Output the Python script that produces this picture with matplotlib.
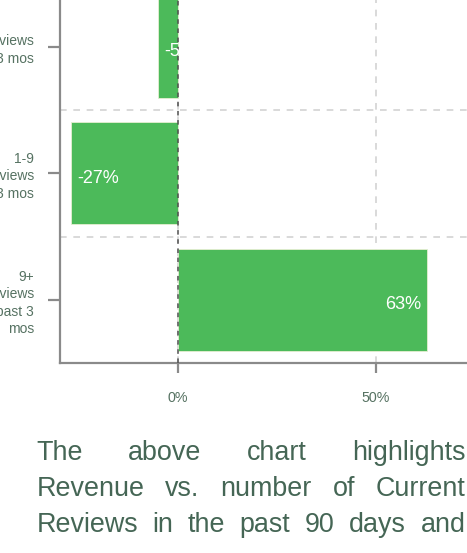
import matplotlib
matplotlib.use("Agg")
import matplotlib.pyplot as plt
from matplotlib.transforms import IdentityTransform

# Data
categories = ["0 reviews\npast 3 mos", "1-9\nreviews\npast 3 mos", "9+\nreviews\npast 3\nmos"]
revenue_change = [-5, -27, 63]          # % revenue difference
value_labels = ["-5%", "-27%", "63%"]
x_ticks = [0, 50]
x_tick_labels = ["0%", "50%"]
paragraph_lines = [
    "The above chart highlights",
    "Revenue vs. number of Current",
    "Reviews in the past 90 days and",
]

W, H, DPI = 467, 553, 100
plt.rcParams['font.family'] = ['Liberation Sans', 'DejaVu Sans']

BAR = "#4cba5a"
AXIS = "#8a8a8a"
LABEL = "#567262"
TEXT = "#456655"
GRID = "#d3d3d3"

fig = plt.figure(figsize=(W / DPI, H / DPI), dpi=DPI)

# axes geometry (pixels)
px_per_pct = 3.96
x_min, x_max = -29.8, 80
left_px = 60
bottom_px = 363
row_px = 126.5
ax = fig.add_axes([left_px / W, (H - bottom_px) / H,
                   (x_max - x_min) * px_per_pct / W, 3 * row_px / H])

ypos = list(range(len(categories)))
bars = ax.barh(ypos, revenue_change, height=0.81, color=BAR,
               edgecolor="#e6eed2", linewidth=0.6, zorder=2)

ax.set_xlim(x_min, x_max)
ax.set_ylim(len(categories) - 0.5, -0.5)

ax.set_xticks(x_ticks)
ax.set_xticklabels(x_tick_labels)
ax.set_yticks(ypos)
ax.set_yticklabels(categories, linespacing=1.3)
ax.set_yticks([0.5, 1.5], minor=True)

ax.grid(axis='x', which='major', color=GRID, linestyle=(0, (4, 4)), linewidth=1.2, zorder=0)
ax.grid(axis='y', which='minor', color=GRID, linestyle=(0, (4, 4)), linewidth=1.2, zorder=0)
ax.set_axisbelow(True)
ax.axvline(0, color="#505050", linestyle=(0, (3, 3)), linewidth=1.1, zorder=3)

for side in ("top", "right"):
    ax.spines[side].set_visible(False)
for side in ("left", "bottom"):
    ax.spines[side].set_color(AXIS)
    ax.spines[side].set_linewidth(1.6)

ax.tick_params(axis='y', which='major', length=8.6, width=1.6, color=AXIS,
               pad=10, labelsize=10, labelcolor=LABEL)
ax.tick_params(axis='y', which='minor', length=0)
ax.tick_params(axis='x', which='major', length=7.2, width=1.6, color=AXIS,
               pad=13, labelsize=10.3, labelcolor=LABEL)

# value labels inside the bars, at the outer end
pad = 6 / px_per_pct
for bar, v, lab, y in zip(bars, revenue_change, value_labels, ypos):
    if v < 0:
        x, ha = v + pad, 'left'
    else:
        x, ha = v - pad, 'right'
    t = ax.text(x, y + 0.04, lab, ha=ha, va='center', color='white',
                fontsize=13, zorder=4)
    t.set_clip_path(bar)

# justified paragraph below the chart
para_size = 19.4
left_edge, right_edge = 36.5, 465.5
baselines = [459.5, 495.5, 531.5]
renderer = fig.canvas.get_renderer()
for line, base in zip(paragraph_lines, baselines):
    words = line.split()
    texts = [fig.text(0, H - base, w, fontsize=para_size, color=TEXT,
                      ha='left', va='baseline', transform=IdentityTransform())
             for w in words]
    widths = [t.get_window_extent(renderer).width for t in texts]
    gap = (right_edge - left_edge - sum(widths)) / (len(words) - 1)
    x = left_edge
    for t, w in zip(texts, widths):
        t.set_x(x)
        x += w + gap

fig.savefig("out.png", dpi=DPI)
